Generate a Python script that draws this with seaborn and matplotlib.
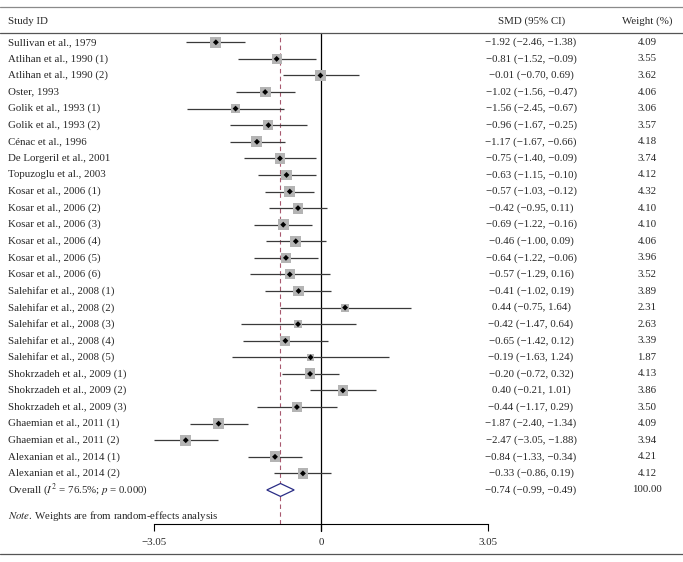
import numpy as np
import pandas as pd
import matplotlib
matplotlib.use("Agg")
import matplotlib.pyplot as plt
import matplotlib.transforms as mtransforms
import seaborn as sns

# Study data
studies = [
    "Sullivan et al., 1979", "Atlihan et al., 1990 (1)", "Atlihan et al., 1990 (2)",
    "Oster, 1993", "Golik et al., 1993 (1)", "Golik et al., 1993 (2)",
    "Cénac et al., 1996", "De Lorgeril et al., 2001", "Topuzoglu et al., 2003",
    "Kosar et al., 2006 (1)", "Kosar et al., 2006 (2)", "Kosar et al., 2006 (3)",
    "Kosar et al., 2006 (4)", "Kosar et al., 2006 (5)", "Kosar et al., 2006 (6)",
    "Salehifar et al., 2008 (1)", "Salehifar et al., 2008 (2)", "Salehifar et al., 2008 (3)",
    "Salehifar et al., 2008 (4)", "Salehifar et al., 2008 (5)",
    "Shokrzadeh et al., 2009 (1)", "Shokrzadeh et al., 2009 (2)", "Shokrzadeh et al., 2009 (3)",
    "Ghaemian et al., 2011 (1)", "Ghaemian et al., 2011 (2)",
    "Alexanian et al., 2014 (1)", "Alexanian et al., 2014 (2)",
]
smd = [-1.92, -0.81, -0.01, -1.02, -1.56, -0.96, -1.17, -0.75, -0.63,
       -0.57, -0.42, -0.69, -0.46, -0.64, -0.57,
       -0.41, 0.44, -0.42, -0.65, -0.19,
       -0.20, 0.40, -0.44, -1.87, -2.47, -0.84, -0.33]
ci_low = [-2.46, -1.52, -0.70, -1.56, -2.45, -1.67, -1.67, -1.40, -1.15,
          -1.03, -0.95, -1.22, -1.00, -1.22, -1.29,
          -1.02, -0.75, -1.47, -1.42, -1.63,
          -0.72, -0.21, -1.17, -2.40, -3.05, -1.33, -0.86]
ci_high = [-1.38, -0.09, 0.69, -0.47, -0.67, -0.25, -0.66, -0.09, -0.10,
           -0.12, 0.11, -0.16, 0.09, -0.06, 0.16,
           0.19, 1.64, 0.64, 0.12, 1.24,
           0.32, 1.01, 0.29, -1.34, -1.88, -0.34, 0.19]
weights = [4.09, 3.55, 3.62, 4.06, 3.06, 3.57, 4.18, 3.74, 4.12,
           4.32, 4.10, 4.10, 4.06, 3.96, 3.52,
           3.89, 2.31, 2.63, 3.39, 1.87,
           4.13, 3.86, 3.50, 4.09, 3.94, 4.21, 4.12]

overall_smd, overall_low, overall_high = -0.74, -0.99, -0.49
overall_label = r"Overall ($I^2$ = 76.5%; $p$ = 0.000)"
xticks = [-3.05, 0, 3.05]
xtick_labels = ["\u22123.05", "0", "3.05"]

df = pd.DataFrame({"study": studies, "smd": smd, "low": ci_low,
                   "high": ci_high, "weight": weights})
df["row"] = np.arange(len(df))
overall_row = len(df)


def fmt(v):
    return f"{v:.2f}".replace("-", "\u2212")


sns.set_theme(style="white")
plt.rcParams["font.family"] = ["Liberation Serif", "DejaVu Serif"]
plt.rcParams["mathtext.fontset"] = "stix"

W, H = 683, 562
fig = plt.figure(figsize=(W / 100, H / 100), dpi=100)

# pixel layout
row0_px, row_step = 42.3, 16.58
top_px, bottom_px = 32.5, 524
left_px, right_px = 154, 488
ax = fig.add_axes([left_px / W, 1 - bottom_px / H,
                   (right_px - left_px) / W, (bottom_px - top_px) / H])
ax.set_xlim(-3.05, 3.05)
ax.set_ylim((bottom_px - row0_px) / row_step, (top_px - row0_px) / row_step)

fs = 7.8
for s in ["top", "left", "right"]:
    ax.spines[s].set_visible(False)
ax.spines["bottom"].set_linewidth(0.8)
ax.spines["bottom"].set_color("black")
ax.set_yticks([])
ax.set_xticks(xticks)
ax.set_xticklabels(xtick_labels, fontsize=fs)
ax.tick_params(axis="x", direction="out", length=5, width=0.8, color="black",
               pad=5, bottom=True)

# reference lines
ax.axvline(0, color="black", lw=0.9, ymin=-0.015, zorder=1, clip_on=False)
ax.axvline(overall_smd, color="#a8596f", lw=0.8, ls=(0, (4, 3)), zorder=1)

# confidence intervals
ax.hlines(df["row"], df["low"], df["high"], color="#3a3a3a", lw=0.9, zorder=2)

# weight boxes
sns.scatterplot(data=df, x="smd", y="row", size="weight", sizes=(0, 64),
                size_norm=(0, df["weight"].max()), marker="s", color="#b4b4b4",
                edgecolor="none", linewidth=0, legend=False, ax=ax, zorder=3)
# point estimates
sns.scatterplot(data=df, x="smd", y="row", marker="D", color="black", s=9,
                edgecolor="none", linewidth=0, legend=False, ax=ax, zorder=4)
ax.set_xlabel("")
ax.set_ylabel("")

# overall diamond
h = 0.39
ax.fill([overall_low, overall_smd, overall_high, overall_smd],
        [overall_row, overall_row - h, overall_row, overall_row + h],
        facecolor="white", edgecolor="#2a2d86", lw=0.9, zorder=5)

# text columns
tr = mtransforms.blended_transform_factory(fig.transFigure, ax.transData)
for _, r in df.iterrows():
    ax.text(8 / W, r["row"], r["study"], transform=tr, fontsize=fs,
            va="center", ha="left", clip_on=False)
    ax.text(531 / W, r["row"], f"{fmt(r['smd'])} ({fmt(r['low'])}, {fmt(r['high'])})",
            transform=tr, fontsize=fs, va="center", ha="center", clip_on=False)
    ax.text(647 / W, r["row"], f"{r['weight']:.2f}", transform=tr, fontsize=fs,
            va="center", ha="center", clip_on=False)

ax.text(8 / W, overall_row, overall_label, transform=tr, fontsize=fs,
        va="center", ha="left", clip_on=False)
ax.text(531 / W, overall_row,
        f"{fmt(overall_smd)} ({fmt(overall_low)}, {fmt(overall_high)})",
        transform=tr, fontsize=fs, va="center", ha="center", clip_on=False)
ax.text(647 / W, overall_row, "100.00", transform=tr, fontsize=fs,
        va="center", ha="center", clip_on=False)
ax.text(8 / W, (516 - row0_px) / row_step,
        r"$\mathit{Note}$. Weights are from random-effects analysis",
        transform=tr, fontsize=fs, va="center", ha="left", clip_on=False)

# header
fig.text(8 / W, 1 - 21 / H, "Study ID", fontsize=fs, va="center", ha="left")
fig.text(532 / W, 1 - 21 / H, "SMD (95% CI)", fontsize=fs, va="center", ha="center")
fig.text(647 / W, 1 - 21 / H, "Weight (%)", fontsize=fs, va="center", ha="center")

# horizontal rules
for y_px, c in [(6.7, "#8a8a8a"), (32.7, "#555555"), (554, "#555555")]:
    fig.add_artist(plt.Line2D([0, 1], [1 - y_px / H, 1 - y_px / H],
                              transform=fig.transFigure, color=c, lw=0.9))

fig.savefig("out.png", dpi=100)
